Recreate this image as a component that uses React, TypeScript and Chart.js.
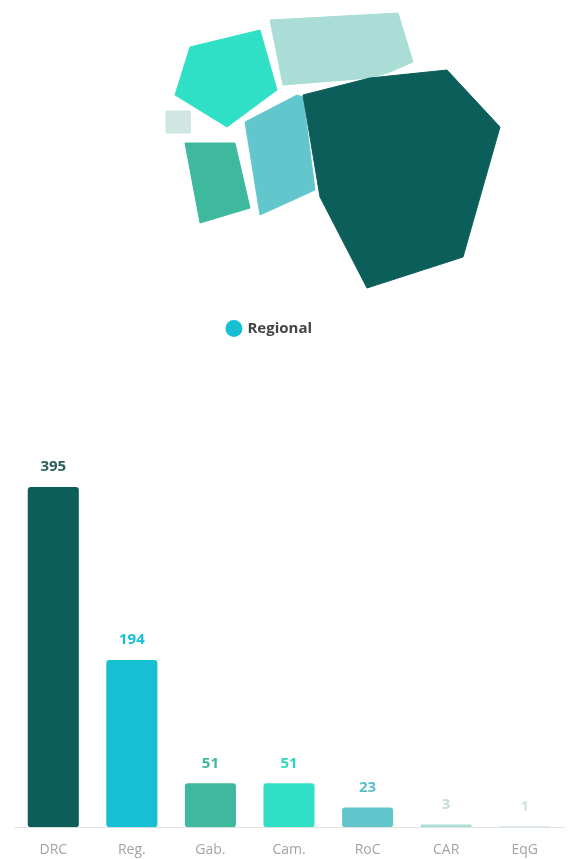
import React, { useEffect, useRef } from 'react';
import { Chart, registerables } from 'chart.js';

Chart.register(...registerables);

// ---- Map data (map units) ----
const mapCountries = ['DRC', 'CAR', 'Cameroon', 'RoC', 'Gabon', 'EqG'];
const drcShape = [[303, 95], [370, 78], [447, 70], [500, 127], [463, 257], [367, 288], [320, 197]];
const carShape = [[270, 20], [398, 13], [413, 62], [390, 72], [370, 78], [283, 85]];
const cameroonShape = [[190, 47], [260, 30], [277, 90], [227, 127], [175, 95]];
const rocShape = [[245, 122], [297, 95], [303, 97], [315, 190], [260, 215]];
const gabonShape = [[185, 143], [235, 143], [250, 208], [200, 223]];
const eqgShape = [[166, 111], [190, 111], [190, 133], [166, 133]];
const mapShapes = [drcShape, carShape, cameroonShape, rocShape, gabonShape, eqgShape];
const mapColors = ['#0b5e59', '#a9ddd5', '#2fe0c6', '#62c7cc', '#3fb99d', '#cfe6e2'];
const legendLabel = 'Regional';
const legendColor = '#16bfd3';

// ---- Bar data ----
const categories = ['DRC', 'Reg.', 'Gab.', 'Cam.', 'RoC', 'CAR', 'EqG'];
const values = [395, 194, 51, 51, 23, 3, 1];
const barColors = ['#0b5e59', '#16bfd3', '#3fb99d', '#2fe0c6', '#62c7cc', '#a9ddd5', '#cde6e1'];
const labelColors = ['#2b5f5d', '#16bfd3', '#3fb99d', '#2fd6be', '#58bfc6', '#c6dcd8', '#d4e4e1'];

const valueLabelPlugin = {
  id: 'valueLabels',
  afterDatasetsDraw(chart: any) {
    const ctx = chart.ctx;
    const meta = chart.getDatasetMeta(0);
    ctx.save();
    ctx.font = 'bold 15px "Open Sans"';
    ctx.textAlign = 'center';
    ctx.textBaseline = 'middle';
    meta.data.forEach((bar: any, i: number) => {
      ctx.fillStyle = labelColors[i];
      ctx.fillText(String(values[i]), bar.x, bar.y - 20);
    });
    ctx.restore();
  },
};

export default function App() {
  const mapRef = useRef<HTMLCanvasElement>(null);
  const barRef = useRef<HTMLCanvasElement>(null);

  useEffect(() => {
    const mapDatasets: any[] = mapShapes.map((shape, i) => ({
      label: mapCountries[i],
      data: [...shape, shape[0]].map(([x, y]) => ({ x, y })),
      showLine: true,
      fill: 'shape',
      backgroundColor: mapColors[i],
      borderColor: mapColors[i],
      borderWidth: 1,
      pointRadius: 0,
      tension: 0,
    }));
    mapDatasets.push({
      label: legendLabel,
      data: [],
      backgroundColor: legendColor,
      borderColor: legendColor,
      pointStyle: 'circle',
      pointRadius: 0,
    });

    const mapChart = new Chart(mapRef.current!, {
      type: 'scatter',
      data: { datasets: mapDatasets },
      options: {
        animation: false,
        responsive: false,
        maintainAspectRatio: false,
        layout: { padding: { left: 0, right: 35, top: 0, bottom: 0 } },
        scales: {
          x: { type: 'linear', display: false, min: 0, max: 540 },
          y: { type: 'linear', display: false, min: 0, max: 311, reverse: true },
        },
        plugins: {
          tooltip: { enabled: false },
          legend: {
            position: 'bottom',
            labels: {
              usePointStyle: true,
              pointStyle: 'circle',
              boxWidth: 12,
              boxHeight: 12,
              padding: 10,
              color: '#444',
              font: { family: '"Open Sans"', size: 15, weight: 'bold' },
              generateLabels: () => [
                {
                  text: legendLabel,
                  fillStyle: legendColor,
                  strokeStyle: legendColor,
                  lineWidth: 0,
                  pointStyle: 'circle',
                  hidden: false,
                  datasetIndex: 6,
                  fontColor: '#444',
                } as any,
              ],
            },
          },
        },
      } as any,
    });

    const barChart = new Chart(barRef.current!, {
      type: 'bar',
      data: {
        labels: categories,
        datasets: [
          {
            data: values,
            backgroundColor: barColors,
            borderRadius: 3,
            borderSkipped: false,
            barPercentage: 0.65,
            categoryPercentage: 1,
          },
        ],
      },
      options: {
        animation: false,
        responsive: false,
        maintainAspectRatio: false,
        layout: { padding: { left: 14, right: 11, top: 47, bottom: 0 } },
        scales: {
          x: {
            grid: { display: false, drawTicks: false },
            border: { display: true, color: '#e3e3e3', width: 1 },
            ticks: {
              color: '#a3a3a3',
              padding: 14,
              font: { family: '"Open Sans"', size: 14 },
            },
          },
          y: { display: false, min: 0, max: Math.max(...values) },
        },
        plugins: { legend: { display: false }, tooltip: { enabled: false } },
      } as any,
      plugins: [valueLabelPlugin],
    });

    return () => {
      mapChart.destroy();
      barChart.destroy();
    };
  }, []);

  return (
    <div
      style={{
        position: 'absolute',
        left: 0,
        top: 0,
        width: 575,
        height: 859,
        overflow: 'hidden',
        background: '#fff',
      }}
    >
      <canvas
        ref={mapRef}
        width={575}
        height={346}
        style={{ position: 'absolute', left: 0, top: 0, width: 575, height: 346 }}
      />
      <canvas
        ref={barRef}
        width={575}
        height={432}
        style={{ position: 'absolute', left: 0, top: 440, width: 575, height: 432 }}
      />
    </div>
  );
}
